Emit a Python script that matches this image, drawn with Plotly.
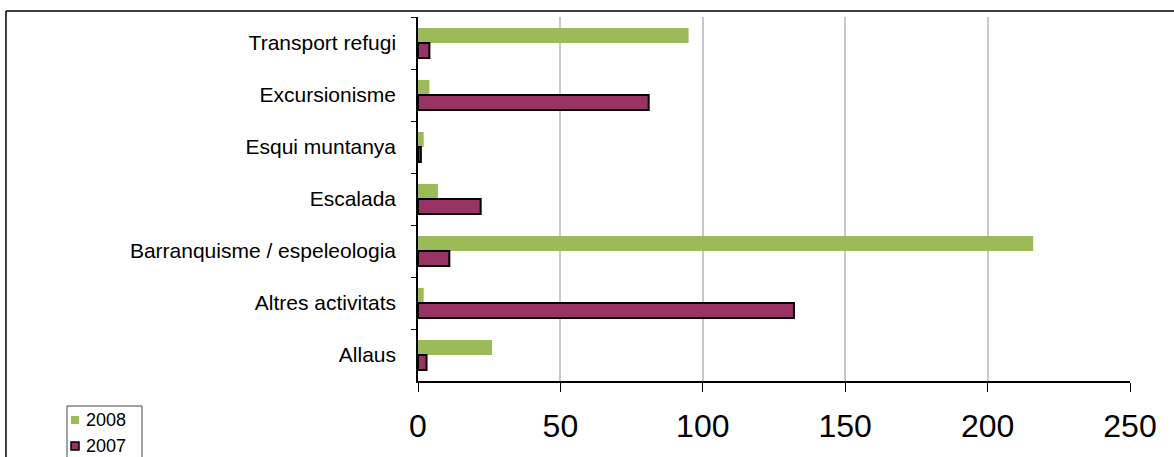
import plotly.graph_objects as go

categories = ["Transport refugi", "Excursionisme", "Esqui muntanya", "Escalada",
              "Barranquisme / espeleologia", "Altres activitats", "Allaus"]
values_2008 = [95, 4, 2, 7, 216, 2, 26]
values_2007 = [4, 81, 1, 22, 11, 132, 3]
x_ticks = [0, 50, 100, 150, 200, 250]
series_names = ["2008", "2007"]

GREEN = "#9BBB59"
PLUM = "#993366"

fig = go.Figure()
fig.add_trace(go.Bar(
    y=categories, x=values_2008, name=series_names[0], orientation="h",
    marker=dict(color=GREEN, line=dict(width=0))))
fig.add_trace(go.Bar(
    y=categories, x=values_2007, name=series_names[1], orientation="h",
    marker=dict(color=PLUM, line=dict(color="black", width=2))))

# outer chart frame (only top and left edges fall inside the crop)
fig.add_shape(type="line", xref="paper", yref="paper",
              x0=-0.5787, x1=1.2, y0=1.0165, y1=1.0165,
              line=dict(color="black", width=1.5))
fig.add_shape(type="line", xref="paper", yref="paper",
              x0=-0.5787, x1=-0.5787, y0=1.0165, y1=-0.5,
              line=dict(color="black", width=1.5))

# hand-made legend box (plotly keeps its own legend inside the page,
# the original one is cut off by the bottom edge)
fig.add_shape(type="rect", xref="paper", yref="paper",
              x0=-0.49298, x1=-0.38764, y0=-0.06868, y1=-0.2445,
              line=dict(color="#444", width=1), fillcolor="white")
legend_rows = [(-0.10714, GREEN, 0), (-0.17857, PLUM, 1.5)]
for (ly, col, lw), name in zip(legend_rows, series_names):
    fig.add_shape(type="rect", xref="paper", yref="paper",
                  x0=-0.48736, x1=-0.47612, y0=ly + 0.011, y1=ly - 0.011,
                  line=dict(color="black", width=lw), fillcolor=col)
    fig.add_annotation(xref="paper", yref="paper", x=-0.4691, y=ly,
                       xanchor="left", yanchor="middle", showarrow=False,
                       text=name, font=dict(size=18, color="black"))

fig.update_layout(
    width=1174, height=457,
    margin=dict(l=418, r=44, t=17, b=76),
    paper_bgcolor="white", plot_bgcolor="white",
    barmode="group", bargap=0.42, bargroupgap=0,
    showlegend=False,
    font=dict(family="Liberation Sans, Arial, sans-serif", color="black"),
    xaxis=dict(range=[0, 250], tickvals=x_ticks, showgrid=True,
               gridcolor="#C8C8C8", gridwidth=1.5, zeroline=False,
               showline=True, linecolor="black", linewidth=1.5,
               ticks="outside", ticklen=9, tickcolor="black",
               tickfont=dict(size=32), ticklabelstandoff=7,
               automargin=False),
    yaxis=dict(autorange="reversed", showline=True, linecolor="black",
               linewidth=1.5, ticks="outside", ticklen=5, tickcolor="black",
               tickson="boundaries", showgrid=False,
               tickfont=dict(size=21), ticklabelstandoff=16,
               automargin=False),
)

fig.write_html("out.html", config={"displayModeBar": False},
               post_script="document.body.style.margin='0';")
